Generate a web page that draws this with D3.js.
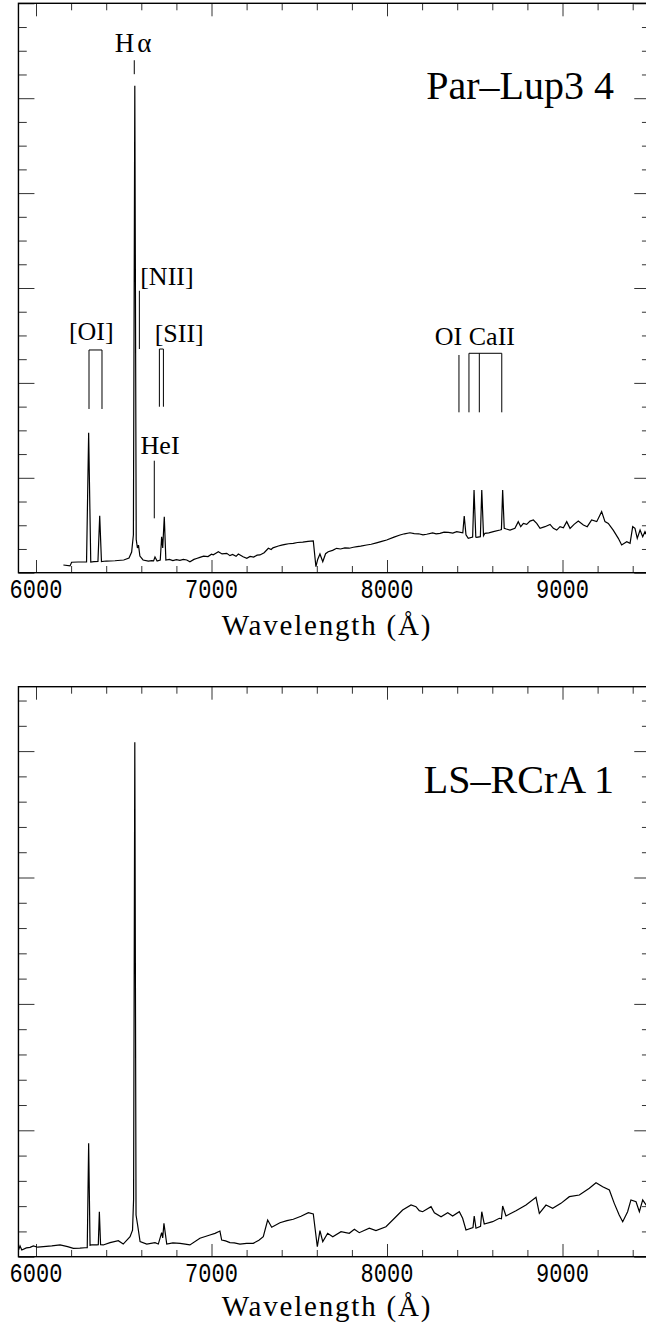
<!DOCTYPE html>
<html>
<script src='https://d3js.org/d3.v7.min.js'></script>
<style>
        html, body {
            margin: 0;
            background-color: #ffffff;
        }
        .lbl {
          font-family: 'Liberation Serif', 'Times New Roman', serif;
          fill: #000;
        }
        .mono {
          font-family: 'Liberation Mono', 'Courier New', monospace;
          fill: #000;
        }
</style>
<body>
<div id="vis"></div>
</body>
<script>
// Par-Lup3 4 spectrum (wavelength in A, flux in arbitrary units)
var lupWave = [6156, 6194, 6203, 6240, 6288, 6300, 6312, 6330, 6353, 6363, 6373, 6400, 6450, 6500, 6530, 6545, 6555, 6563, 6571, 6578,
  6584, 6592, 6610, 6640, 6660, 6670, 6678, 6690, 6708, 6716, 6722, 6731, 6740, 6760, 6780, 6800, 6820, 6840, 6859, 6877,
  6900, 6915, 6934, 6955, 6980, 7000, 7010, 7025, 7039, 7060, 7087, 7105, 7120, 7140, 7153, 7180, 7201, 7220, 7240, 7260,
  7276, 7300, 7324, 7340, 7350, 7381, 7400, 7420, 7440, 7466, 7490, 7520, 7550, 7580, 7595, 7605, 7618, 7634, 7650, 7665,
  7690, 7713, 7735, 7760, 7785, 7808, 7830, 7850, 7884, 7910, 7940, 7970, 7998, 8040, 8074, 8100, 8131, 8155, 8180, 8205,
  8226, 8260, 8280, 8302, 8325, 8350, 8375, 8397, 8432, 8440, 8450, 8463, 8488, 8496, 8506, 8511, 8532, 8540, 8550, 8558,
  8580, 8606, 8644, 8652, 8659, 8668, 8680, 8701, 8729, 8748, 8762, 8777, 8796, 8815, 8834, 8853, 8872, 8900, 8929, 8948,
  8967, 8986, 9005, 9024, 9043, 9066, 9090, 9119, 9141, 9166, 9195, 9223, 9242, 9261, 9289, 9318, 9337, 9366, 9385, 9400,
  9413, 9426, 9442, 9457, 9470, 9480, 9500];
var lupFlux = [0.081, 0.071, 0.110, 0.113, 0.113, 1.475, 0.113, 0.116, 0.118, 0.600, 0.118, 0.123, 0.126, 0.134, 0.155, 0.217, 0.400, 5.130, 0.350, 0.260,
  0.290, 0.175, 0.134, 0.123, 0.128, 0.125, 0.165, 0.123, 0.134, 0.379, 0.260, 0.590, 0.134, 0.140, 0.128, 0.138, 0.130, 0.140, 0.134, 0.116,
  0.140, 0.150, 0.162, 0.175, 0.170, 0.195, 0.188, 0.205, 0.221, 0.198, 0.204, 0.180, 0.192, 0.172, 0.197, 0.168, 0.152, 0.172, 0.165, 0.185,
  0.187, 0.210, 0.257, 0.245, 0.262, 0.281, 0.290, 0.298, 0.305, 0.310, 0.318, 0.322, 0.330, 0.334, 0.063, 0.140, 0.197, 0.116, 0.200, 0.221,
  0.235, 0.257, 0.250, 0.262, 0.258, 0.268, 0.275, 0.280, 0.292, 0.300, 0.315, 0.330, 0.345, 0.375, 0.397, 0.410, 0.421, 0.412, 0.410, 0.398,
  0.405, 0.420, 0.410, 0.415, 0.428, 0.425, 0.418, 0.432, 0.420, 0.597, 0.400, 0.362, 0.376, 0.871, 0.376, 0.373, 0.380, 0.871, 0.390, 0.415,
  0.420, 0.432, 0.450, 0.455, 0.871, 0.467, 0.460, 0.449, 0.467, 0.538, 0.485, 0.520, 0.509, 0.544, 0.555, 0.520, 0.467, 0.485, 0.509, 0.467,
  0.449, 0.485, 0.474, 0.538, 0.467, 0.509, 0.544, 0.503, 0.485, 0.555, 0.538, 0.643, 0.538, 0.520, 0.449, 0.362, 0.292, 0.327, 0.310, 0.485,
  0.467, 0.362, 0.449, 0.379, 0.432, 0.397, 0.430];

// LS-RCrA 1 spectrum
var rcraWave = [5897, 5909, 5919, 5945, 5966, 5985, 6010, 6042, 6090, 6137, 6180, 6213, 6250, 6279, 6292, 6300, 6308, 6317, 6346, 6355,
  6361, 6368, 6383, 6422, 6469, 6497, 6536, 6550, 6556, 6563, 6570, 6579, 6593, 6631, 6678, 6697, 6716, 6722, 6729, 6745,
  6780, 6821, 6850, 6877, 6934, 6991, 7020, 7048, 7058, 7080, 7105, 7130, 7162, 7200, 7238, 7270, 7295, 7320, 7343, 7390,
  7430, 7466, 7510, 7552, 7580, 7603, 7618, 7634, 7662, 7691, 7738, 7785, 7814, 7842, 7899, 7937, 7994, 8051, 8089, 8137,
  8165, 8184, 8203, 8251, 8270, 8308, 8346, 8374, 8412, 8431, 8450, 8490, 8497, 8507, 8533, 8540, 8554, 8602, 8640, 8652,
  8659, 8678, 8735, 8792, 8849, 8868, 8906, 8944, 8991, 9039, 9096, 9153, 9191, 9229, 9267, 9295, 9323, 9343, 9371, 9390,
  9419, 9438, 9457, 9476, 9500];
var rcraFlux = [0.040, 0.085, 0.053, 0.070, 0.074, 0.085, 0.075, 0.079, 0.085, 0.093, 0.080, 0.066, 0.068, 0.071, 0.071, 0.897, 0.090, 0.093, 0.093, 0.095,
  0.356, 0.095, 0.093, 0.111, 0.127, 0.100, 0.158, 0.210, 0.450, 4.070, 0.330, 0.251, 0.119, 0.100, 0.111, 0.100, 0.190, 0.148, 0.264, 0.100,
  0.110, 0.106, 0.100, 0.093, 0.146, 0.172, 0.185, 0.203, 0.132, 0.125, 0.111, 0.110, 0.100, 0.105, 0.106, 0.130, 0.158, 0.290, 0.233, 0.269,
  0.285, 0.296, 0.320, 0.348, 0.338, 0.079, 0.206, 0.119, 0.185, 0.158, 0.198, 0.185, 0.217, 0.190, 0.225, 0.206, 0.237, 0.316, 0.369, 0.409,
  0.396, 0.364, 0.356, 0.396, 0.348, 0.316, 0.348, 0.322, 0.356, 0.304, 0.211, 0.230, 0.322, 0.225, 0.240, 0.356, 0.259, 0.277, 0.304, 0.300,
  0.401, 0.322, 0.364, 0.409, 0.470, 0.343, 0.409, 0.383, 0.422, 0.475, 0.488, 0.541, 0.585, 0.554, 0.528, 0.422, 0.330, 0.277, 0.356, 0.449,
  0.435, 0.356, 0.449, 0.409, 0.430];

// axis ticks
var xMajor = [6000, 7000, 8000, 9000];
var xTickLabels = ['6000', '7000', '8000', '9000'];
var xLabel = 'Wavelength (\u00c5)';

// line identifications (top panel)
var idText = ['[OI]', '[NII]', '[SII]', 'HeI', 'OI CaII'];
var idTextWave = [6315, 6746, 6816, 6707, 8501];
var idTextFlux = [2.452, 3.032, 2.434, 1.251, 2.400];
// single markers: wavelength, top, bottom
var markWave = [6560, 6589, 6674, 8410];
var markTop = [5.40, 2.971, 1.180, 2.294];
var markBottom = [5.253, 2.357, 0.573, 1.690];
// brackets: list of legs, top, bottom
var bracketWaves = [[6302, 6376], [6703, 6726], [8467, 8526, 8654]];
var bracketTop = [2.347, 2.357, 2.312];
var bracketBottom = [1.725, 1.749, 1.690];

var W = 646, H = 1324;

var svg = d3.select('#vis')
    .append('svg')
    .attr('width', W)
    .attr('height', H);

var x_scale = d3.scaleLinear()
    .domain([5900, 9500])
    .range([18.45, 650.25]);

var xMinor = d3.range(6000, 9500, 200).filter(function(v) { return v % 1000 != 0; });

function drawPanel(opts) {
    var g = svg.append('g');
    var y_scale = d3.scaleLinear()
        .domain([0, opts.ymax])
        .range([opts.bottom, opts.top]);

    var yMajor = d3.range(0, opts.ymax + 1e-6, 1);
    var yMinor = d3.range(0, opts.ymax + 1e-6, opts.ystep).filter(function(v) {
        return Math.abs(v - Math.round(v)) > 1e-6;
    });

    var x0 = x_scale.range()[0], x1 = x_scale.range()[1];

    function ticks(axis, values, size, transform) {
        g.append('g')
            .attr('transform', transform)
            .attr('color', '#333')
            .call(axis.tickValues(values).tickSize(-size).tickSizeOuter(0).tickFormat(''))
            .call(function(s) { s.select('.domain').remove(); })
            .selectAll('line').attr('stroke-width', 1);
    }
    ticks(d3.axisBottom(x_scale), xMajor, 12.7, 'translate(0,' + opts.bottom + ')');
    ticks(d3.axisBottom(x_scale), xMinor, 6.7, 'translate(0,' + opts.bottom + ')');
    ticks(d3.axisTop(x_scale), xMajor, 13, 'translate(0,' + opts.top + ')');
    ticks(d3.axisTop(x_scale), xMinor, 7, 'translate(0,' + opts.top + ')');
    ticks(d3.axisLeft(y_scale), yMajor, 16, 'translate(' + x0 + ',0)');
    ticks(d3.axisLeft(y_scale), yMinor, 8.3, 'translate(' + x0 + ',0)');
    ticks(d3.axisRight(y_scale), yMajor, 16, 'translate(' + x1 + ',0)');
    ticks(d3.axisRight(y_scale), yMinor, 8.3, 'translate(' + x1 + ',0)');

    g.append('rect')
        .attr('x', x0)
        .attr('y', opts.top)
        .attr('width', x1 - x0)
        .attr('height', opts.bottom - opts.top)
        .attr('fill', 'none')
        .attr('stroke', '#000')
        .attr('stroke-width', 1.4);

    var clipId = 'clip' + opts.id;
    g.append('clipPath')
        .attr('id', clipId)
        .append('rect')
        .attr('x', x0)
        .attr('y', opts.top)
        .attr('width', x1 - x0)
        .attr('height', opts.bottom - opts.top);

    var pts = opts.wave.map(function(w, i) { return [w, opts.flux[i]]; });
    var line = d3.line()
        .x(function(d) { return x_scale(d[0]); })
        .y(function(d) { return y_scale(d[1]); });

    g.append('path')
        .datum(pts)
        .attr('clip-path', 'url(#' + clipId + ')')
        .attr('d', line)
        .attr('fill', 'none')
        .attr('stroke', '#000')
        .attr('stroke-width', 1.2);

    // tick labels
    g.selectAll('.xtl')
        .data(xMajor)
        .enter()
        .append('text')
        .attr('class', 'mono')
        .attr('text-anchor', 'middle')
        .attr('font-size', 22)
        .attr('transform', function(d) {
            return 'translate(' + x_scale(d) + ',' + (opts.bottom + 25.6) + ') scale(1,1.27)';
        })
        .text(function(d, i) { return xTickLabels[i]; });

    g.append('text')
        .attr('class', 'lbl')
        .attr('text-anchor', 'middle')
        .attr('font-size', 29)
        .attr('letter-spacing', 1.8)
        .attr('x', 327)
        .attr('y', opts.bottom + opts.labelDrop)
        .text(xLabel);

    g.append('text')
        .attr('class', 'lbl')
        .attr('text-anchor', 'end')
        .attr('font-size', 40)
        .attr('x', x_scale(9293))
        .attr('y', y_scale(opts.nameFlux))
        .text(opts.name);

    return {g: g, y: y_scale};
}

var p1 = drawPanel({id: 1, top: 3.3, bottom: 572.7, ymax: 6, ystep: 0.25, labelDrop: 62,
    wave: lupWave, flux: lupFlux, name: 'Par\u2013Lup3 4', nameFlux: 4.99});

drawPanel({id: 2, top: 686.7, bottom: 1256.7, ymax: (1256.7 - 686.7) / 126.4, ystep: 0.2, labelDrop: 59.5,
    wave: rcraWave, flux: rcraFlux, name: 'LS\u2013RCrA 1', nameFlux: 3.666});

// line identifications in the top panel
var y1 = p1.y;
var hText = p1.g.append('text')
    .attr('class', 'lbl')
    .attr('font-size', 27)
    .attr('text-anchor', 'middle')
    .attr('x', x_scale(6553))
    .attr('y', y1(5.487));
hText.append('tspan').text('H');
hText.append('tspan').attr('dx', 3).text('\u03b1');

p1.g.selectAll('.idt')
    .data(idText)
    .enter()
    .append('text')
    .attr('class', 'lbl')
    .attr('font-size', 26)
    .attr('text-anchor', 'middle')
    .attr('x', function(d, i) { return x_scale(idTextWave[i]); })
    .attr('y', function(d, i) { return y1(idTextFlux[i]); })
    .text(function(d) { return d; });

p1.g.selectAll('.mk')
    .data(markWave)
    .enter()
    .append('line')
    .attr('x1', function(d) { return x_scale(d); })
    .attr('x2', function(d) { return x_scale(d); })
    .attr('y1', function(d, i) { return y1(markTop[i]); })
    .attr('y2', function(d, i) { return y1(markBottom[i]); })
    .attr('stroke', '#000')
    .attr('stroke-width', 1);

p1.g.selectAll('.br')
    .data(bracketWaves)
    .enter()
    .append('path')
    .attr('fill', 'none')
    .attr('stroke', '#000')
    .attr('stroke-width', 1)
    .attr('d', function(d, i) {
        var top = y1(bracketTop[i]), bot = y1(bracketBottom[i]);
        var s = 'M' + x_scale(d[0]) + ',' + bot + 'V' + top + 'H' + x_scale(d[d.length - 1]) + 'V' + bot;
        for (var k = 1; k < d.length - 1; k++) {
            s += 'M' + x_scale(d[k]) + ',' + top + 'V' + bot;
        }
        return s;
    });
</script>
</html>
